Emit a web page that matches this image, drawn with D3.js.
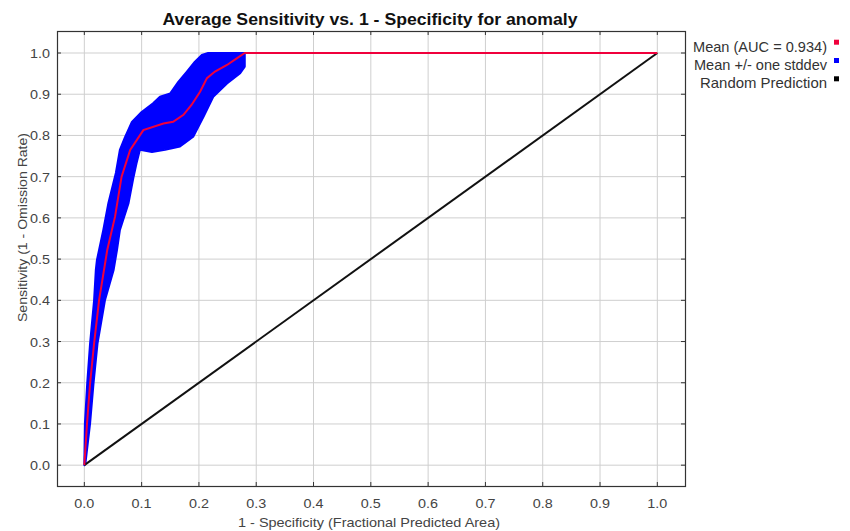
<!DOCTYPE html>
<html>
<head>
<meta charset="utf-8">
<script src="https://cdn.jsdelivr.net/npm/d3@7"></script>
<style>
  body { margin: 0; background: #fff; }
  text { font-family: "Liberation Sans", Arial, sans-serif; }
</style>
</head>
<body>
<svg id="chart" width="850" height="531"></svg>
<script>
// mean ROC curve (1 - specificity, sensitivity)
var meanX = [0, 0.0047, 0.010, 0.017, 0.0257, 0.040, 0.0536, 0.065, 0.080, 0.103, 0.138, 0.155, 0.173, 0.187, 0.202, 0.214, 0.228, 0.249, 0.266, 0.280, 1.0];
var meanY = [0, 0.101, 0.198, 0.295, 0.400, 0.522, 0.603, 0.700, 0.765, 0.813, 0.829, 0.833, 0.850, 0.874, 0.906, 0.939, 0.955, 0.971, 0.987, 1.0, 1.0];

// mean + one stddev (upper edge of band)
var upperX = [0, 0.001, 0.005, 0.010, 0.017, 0.020, 0.022, 0.033, 0.042, 0.055, 0.062, 0.071, 0.083, 0.100, 0.120, 0.132, 0.150, 0.164, 0.179, 0.193, 0.205, 0.216, 0.280];
var upperY = [0, 0.101, 0.198, 0.295, 0.400, 0.473, 0.498, 0.570, 0.636, 0.709, 0.765, 0.796, 0.833, 0.857, 0.878, 0.894, 0.902, 0.930, 0.955, 0.979, 0.995, 1.0, 1.0];

// mean - one stddev (lower edge of band)
var lowerX = [0.002, 0.010, 0.016, 0.023, 0.036, 0.051, 0.057, 0.062, 0.077, 0.086, 0.091, 0.097, 0.118, 0.141, 0.167, 0.190, 0.208, 0.225, 0.249, 0.272, 0.280, 0.280];
var lowerY = [0.005, 0.101, 0.198, 0.295, 0.400, 0.473, 0.522, 0.570, 0.635, 0.700, 0.732, 0.765, 0.760, 0.765, 0.773, 0.797, 0.845, 0.894, 0.926, 0.951, 0.967, 1.0];

var randomX = [0, 1];
var randomY = [0, 1];

var ticks = [0, 0.1, 0.2, 0.3, 0.4, 0.5, 0.6, 0.7, 0.8, 0.9, 1.0];

var legendLabels = ["Mean (AUC = 0.934)", "Mean +/- one stddev", "Random Prediction"];
var legendColors = ["#f0003c", "#0000ff", "#000000"];
var legendWidths = [134, 133, 127];

var plot = {left: 57, right: 685, top: 31, bottom: 486};

var svg = d3.select("#chart");

var x = d3.scaleLinear().domain([-0.0477, 1.0483]).range([plot.left, plot.right]);
var y = d3.scaleLinear().domain([-0.0505, 1.0534]).range([plot.bottom, plot.top]);

var line = d3.line().x(function(d) { return x(d[0]); }).y(function(d) { return y(d[1]); });

// grid
svg.append("g")
  .selectAll("line")
  .data(ticks)
  .join("line")
  .attr("x1", function(d) { return x(d); })
  .attr("x2", function(d) { return x(d); })
  .attr("y1", plot.top)
  .attr("y2", plot.bottom)
  .attr("stroke", "#cfcfcf")
  .attr("stroke-width", 1);

svg.append("g")
  .selectAll("line")
  .data(ticks)
  .join("line")
  .attr("x1", plot.left)
  .attr("x2", plot.right)
  .attr("y1", function(d) { return y(d); })
  .attr("y2", function(d) { return y(d); })
  .attr("stroke", "#cfcfcf")
  .attr("stroke-width", 1);

// stddev band
var band = [];
upperX.forEach(function(v, i) { band.push([v, upperY[i]]); });
for (var i = lowerX.length - 1; i >= 0; i--) band.push([lowerX[i], lowerY[i]]);

svg.append("path")
  .datum(band)
  .attr("d", d3.line().x(function(d) { return x(d[0]); }).y(function(d) { return y(d[1]); }).curve(d3.curveLinearClosed))
  .attr("fill", "#0000ff")
  .attr("stroke", "#0000ff")
  .attr("stroke-width", 2)
  .attr("stroke-linejoin", "round");

// random prediction
svg.append("path")
  .datum(randomX.map(function(v, i) { return [v, randomY[i]]; }))
  .attr("d", line)
  .attr("fill", "none")
  .attr("stroke", "#111")
  .attr("stroke-width", 2);

// mean
svg.append("path")
  .datum(meanX.map(function(v, i) { return [v, meanY[i]]; }))
  .attr("d", line)
  .attr("fill", "none")
  .attr("stroke", legendColors[0])
  .attr("stroke-width", 2);

// frame
svg.append("rect")
  .attr("x", plot.left + 0.5)
  .attr("y", plot.top + 0.5)
  .attr("width", plot.right - plot.left)
  .attr("height", plot.bottom - plot.top)
  .attr("fill", "none")
  .attr("stroke", "#333")
  .attr("stroke-width", 1.2);

// inward ticks on all sides
var tickG = svg.append("g").attr("stroke", "#333").attr("stroke-width", 1);
ticks.forEach(function(t) {
  tickG.append("line").attr("x1", x(t)).attr("x2", x(t)).attr("y1", plot.bottom).attr("y2", plot.bottom - 4);
  tickG.append("line").attr("x1", x(t)).attr("x2", x(t)).attr("y1", plot.top).attr("y2", plot.top + 4);
  tickG.append("line").attr("y1", y(t)).attr("y2", y(t)).attr("x1", plot.left).attr("x2", plot.left + 4);
  tickG.append("line").attr("y1", y(t)).attr("y2", y(t)).attr("x1", plot.right).attr("x2", plot.right - 4);
});

// tick labels
svg.append("g")
  .selectAll("text")
  .data(ticks)
  .join("text")
  .attr("x", function(d) { return x(d); })
  .attr("y", 508)
  .attr("text-anchor", "middle")
  .attr("font-size", "13.5px")
  .attr("fill", "#444")
  .attr("textLength", 20)
  .attr("lengthAdjust", "spacingAndGlyphs")
  .text(function(d) { return d3.format(".1f")(d); });

svg.append("g")
  .selectAll("text")
  .data(ticks)
  .join("text")
  .attr("x", 30)
  .attr("y", function(d) { return y(d) + 5; })
  .attr("font-size", "13.5px")
  .attr("fill", "#444")
  .attr("textLength", 20)
  .attr("lengthAdjust", "spacingAndGlyphs")
  .text(function(d) { return d3.format(".1f")(d); });

// titles
svg.append("text")
  .attr("x", 370)
  .attr("y", 25)
  .attr("text-anchor", "middle")
  .attr("font-size", "16px")
  .attr("font-weight", "bold")
  .attr("fill", "#111")
  .attr("textLength", 415)
  .attr("lengthAdjust", "spacingAndGlyphs")
  .text("Average Sensitivity vs. 1 - Specificity for anomaly");

svg.append("text")
  .attr("x", 369)
  .attr("y", 527)
  .attr("text-anchor", "middle")
  .attr("font-size", "13px")
  .attr("fill", "#444")
  .attr("textLength", 262)
  .attr("lengthAdjust", "spacingAndGlyphs")
  .text("1 - Specificity (Fractional Predicted Area)");

svg.append("text")
  .attr("transform", "translate(27,227.5) rotate(-90)")
  .attr("text-anchor", "middle")
  .attr("font-size", "13px")
  .attr("fill", "#444")
  .attr("textLength", 189)
  .attr("lengthAdjust", "spacingAndGlyphs")
  .text("Sensitivity (1 - Omission Rate)");

// legend
var legend = svg.append("g")
  .selectAll("g")
  .data(legendLabels)
  .join("g")
  .attr("transform", function(d, i) { return "translate(0," + (51.7 + i * 18.3) + ")"; });

legend.append("text")
  .attr("x", function(d, i) { return 827 - legendWidths[i]; })
  .attr("y", 0)
  .attr("font-size", "15px")
  .attr("fill", "#333")
  .attr("textLength", function(d, i) { return legendWidths[i]; })
  .attr("lengthAdjust", "spacingAndGlyphs")
  .text(function(d) { return d; });

legend.append("rect")
  .attr("x", 834)
  .attr("y", -12)
  .attr("width", 5)
  .attr("height", 5)
  .attr("fill", function(d, i) { return legendColors[i]; });
</script>
</body>
</html>
